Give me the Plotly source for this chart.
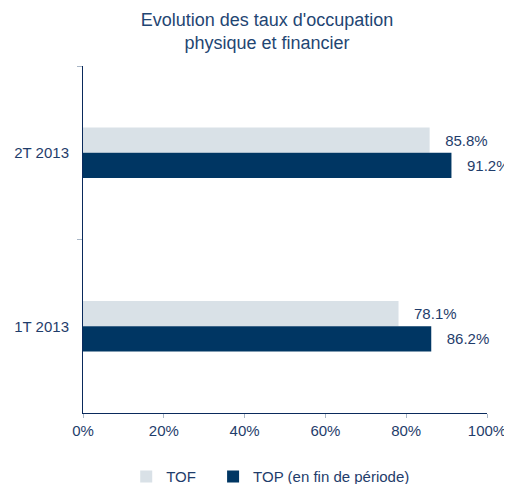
import plotly.graph_objects as go

categories = ["2T 2013", "1T 2013"]
tof_values = [85.8, 78.1]
top_values = [91.2, 86.2]
series_names = ["TOF", "TOP (en fin de période)"]
x_tick_values = [0, 20, 40, 60, 80, 100]
x_tick_labels = ["0%", "20%", "40%", "60%", "80%", "100%"]

light = "#D9E1E7"
dark = "#003663"
text_color = "#1F3D6B"
font_family = "Liberation Sans, Arial, sans-serif"

fig = go.Figure()
fig.add_trace(go.Bar(
    y=categories, x=tof_values, name=series_names[0], orientation="h",
    marker=dict(color=light, line=dict(width=0)),
    text=[f"\u00a0\u00a0\u00a0{v:.1f}%" for v in tof_values],
    textposition="outside", cliponaxis=False,
    textfont=dict(color=text_color, size=15, family=font_family),
    legend="legend",
))
fig.add_trace(go.Bar(
    y=categories, x=top_values, name=series_names[1], orientation="h",
    marker=dict(color=dark, line=dict(width=0)),
    text=[f"\u00a0\u00a0\u00a0{v:.1f}%" for v in top_values],
    textposition="outside", cliponaxis=False,
    textfont=dict(color=text_color, size=15, family=font_family),
    legend="legend2",
))

legend_common = dict(
    orientation="h", xanchor="left", y=-0.184, yanchor="middle",
    font=dict(size=15, color=text_color), itemwidth=30,
    bgcolor="rgba(0,0,0,0)",
)

fig.update_layout(
    width=504, height=476,
    margin=dict(l=75, r=25, t=58, b=71, autoexpand=False),
    paper_bgcolor="white", plot_bgcolor="white",
    barmode="group", bargap=0.71, bargroupgap=0,
    font=dict(family=font_family, color=text_color, size=15),
    title=dict(
        text="Evolution des taux d'occupation<br>physique et financier",
        x=0.514, xanchor="center", y=0.962, yanchor="top",
        font=dict(size=18, color="#1F4673", family=font_family),
    ),
    showlegend=True,
    legend=dict(x=0.107, **legend_common),
    legend2=dict(x=0.322, **legend_common),
    uniformtext=dict(mode=False),
)
fig.update_xaxes(
    range=[0, 100], tickvals=x_tick_values, ticktext=x_tick_labels,
    showgrid=False, zeroline=False, automargin=False,
    showline=True, linecolor="#0A2A5C", linewidth=1,
    ticks="outside", ticklen=4, tickcolor="#A9B6C6",
    tickfont=dict(size=15, color=text_color),
)
fig.update_yaxes(
    autorange="reversed", showgrid=False, zeroline=False, automargin=False,
    showline=True, linecolor="#0A2A5C", linewidth=1,
    ticks="outside", ticklen=5, tickcolor="#A9B6C6", tickson="boundaries",
    tickfont=dict(size=15, color=text_color), ticklabelstandoff=10,
)

fig.write_html("out.html")
